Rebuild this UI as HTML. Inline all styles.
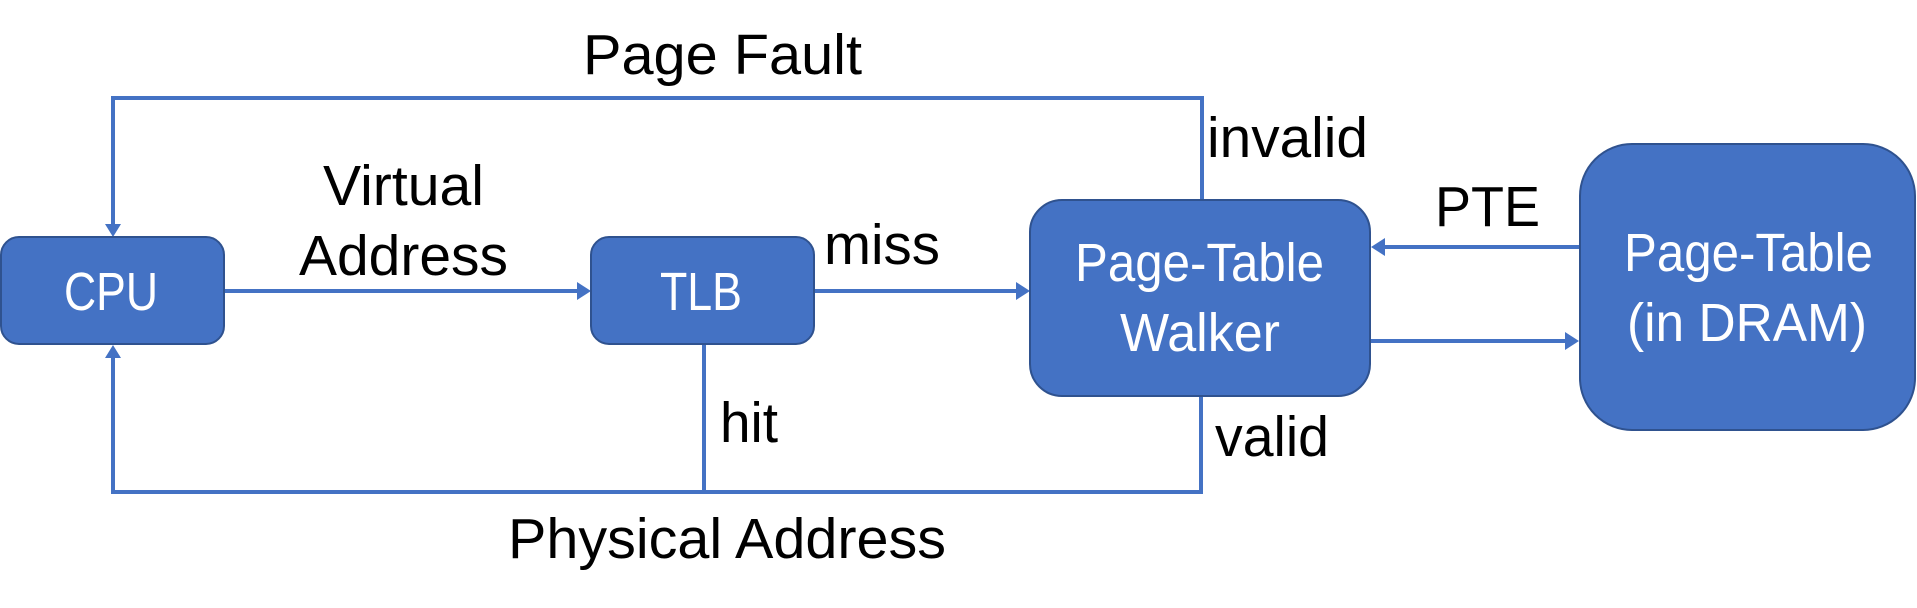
<!DOCTYPE html>
<html><head><meta charset="utf-8"><style>html,body{margin:0;padding:0;background:#fff}svg{display:block}</style></head><body>
<svg width="1917" height="608" viewBox="0 0 1917 608" xmlns="http://www.w3.org/2000/svg" font-family="Liberation Sans, sans-serif">
<g stroke="#4472C4" stroke-width="4" fill="none">
<polyline points="1202,200 1202,98 113,98 113,226"/>
<line x1="224" y1="291" x2="578" y2="291"/>
<line x1="814" y1="291" x2="1017" y2="291"/>
<polyline points="704,344 704,492"/>
<polyline points="1201,396 1201,492 113,492 113,356"/>
<line x1="1580" y1="247" x2="1384" y2="247"/>
<line x1="1370" y1="341" x2="1566" y2="341"/>
</g>
<g fill="#4472C4">
<polygon points="105,224 121,224 113,237"/>
<polygon points="105,358 121,358 113,345"/>
<polygon points="577,282 577,300 591,291"/>
<polygon points="1016,282 1016,300 1030,291"/>
<polygon points="1385,238 1385,256 1371,247"/>
<polygon points="1565,332 1565,350 1579,341"/>
</g>
<g fill="#4472C4" stroke="#2F528F" stroke-width="2">
<rect x="1" y="237" width="223" height="107" rx="18"/>
<rect x="591" y="237" width="223" height="107" rx="18"/>
<rect x="1030" y="200" width="340" height="196" rx="32"/>
<rect x="1580" y="144" width="335" height="286" rx="52"/>
</g>
<g fill="#fff" font-size="54">
<text x="64" y="310" textLength="94" lengthAdjust="spacingAndGlyphs">CPU</text>
<text x="660" y="310" textLength="82" lengthAdjust="spacingAndGlyphs">TLB</text>
<text x="1075" y="281" textLength="249" lengthAdjust="spacingAndGlyphs">Page-Table</text>
<text x="1120" y="351" textLength="160" lengthAdjust="spacingAndGlyphs">Walker</text>
<text x="1624" y="271" textLength="249" lengthAdjust="spacingAndGlyphs">Page-Table</text>
<text x="1627" y="341" textLength="240" lengthAdjust="spacingAndGlyphs">(in DRAM)</text>
</g>
<g fill="#000" font-size="57">
<text x="583" y="74" textLength="279" lengthAdjust="spacingAndGlyphs">Page Fault</text>
<text x="323" y="205" textLength="161" lengthAdjust="spacingAndGlyphs">Virtual</text>
<text x="299" y="275" textLength="209" lengthAdjust="spacingAndGlyphs">Address</text>
<text x="824" y="264" textLength="116" lengthAdjust="spacingAndGlyphs">miss</text>
<text x="1207" y="157" textLength="161" lengthAdjust="spacingAndGlyphs">invalid</text>
<text x="1435" y="226" textLength="105" lengthAdjust="spacingAndGlyphs">PTE</text>
<text x="720" y="442" textLength="58" lengthAdjust="spacingAndGlyphs">hit</text>
<text x="1215" y="456" textLength="114" lengthAdjust="spacingAndGlyphs">valid</text>
<text x="508" y="558" textLength="438" lengthAdjust="spacingAndGlyphs">Physical Address</text>
</g>
</svg>
</body></html>
